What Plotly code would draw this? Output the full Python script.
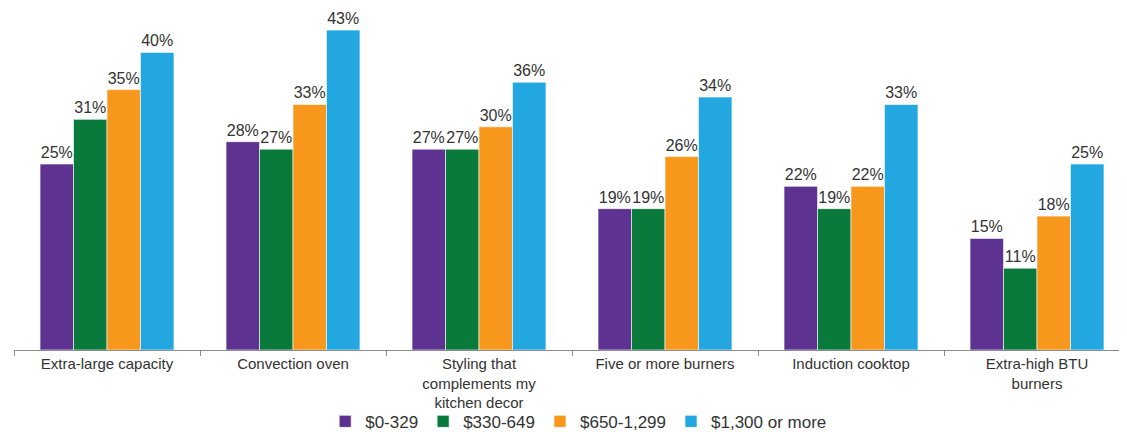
import plotly.graph_objects as go

categories = ["Extra-large capacity", "Convection oven",
              "Styling that<br>complements my<br>kitchen decor",
              "Five or more burners", "Induction cooktop",
              "Extra-high BTU<br>burners"]
series_names = ["$0-329", "$330-649", "$650-1,299", "$1,300 or more"]
v_0_329 = [25, 28, 27, 19, 22, 15]
v_330_649 = [31, 27, 27, 19, 19, 11]
v_650_1299 = [35, 33, 30, 26, 22, 18]
v_1300_plus = [40, 43, 36, 34, 33, 25]
colors = ["#5E3290", "#0A7A3C", "#F7981D", "#22A7E0"]

fig = go.Figure()
for name, vals, col in zip(series_names, [v_0_329, v_330_649, v_650_1299, v_1300_plus], colors):
    fig.add_trace(go.Bar(
        x=categories, y=vals, name=name,
        marker=dict(color=col, line=dict(color="white", width=0.6)),
        text=[f"{v}%" for v in vals], textposition="outside",
        textfont=dict(family="Arial, Liberation Sans", size=16, color="#333333"),
        cliponaxis=False,
    ))

fig.update_layout(
    width=1127, height=432,
    margin=dict(l=6, r=5, t=0, b=90, autoexpand=False),
    paper_bgcolor="white", plot_bgcolor="white",
    barmode="group", bargap=0.28, bargroupgap=0,
    font=dict(family="Arial, Liberation Sans", size=16, color="#333333"),
    showlegend=True,
    legend=dict(orientation="h", x=0.506, xanchor="center", y=-0.21, yanchor="middle",
                font=dict(size=17, color="#333333"), itemwidth=30,
                bgcolor="rgba(0,0,0,0)", traceorder="normal"),
)
fig.update_xaxes(showline=True, linecolor="#8c8c8c", linewidth=1, automargin=False,
                 ticks="outside", tickson="boundaries", ticklen=5, tickcolor="#8c8c8c",
                 tickfont=dict(size=15, color="#333333"), showgrid=False)
fig.update_yaxes(range=[0, 45.97], visible=False, showgrid=False, automargin=False)

fig.write_html("out.html")
